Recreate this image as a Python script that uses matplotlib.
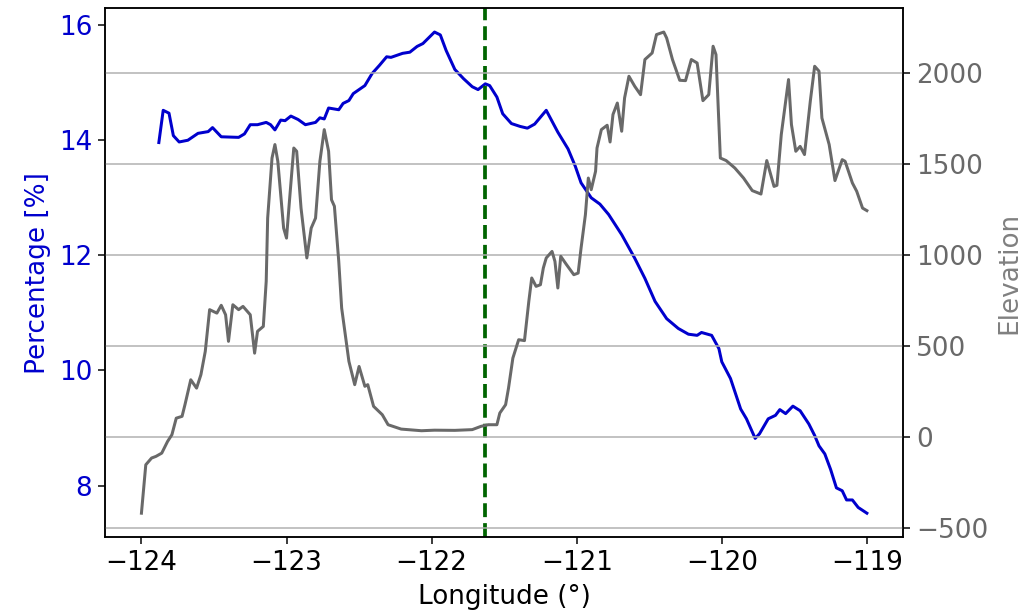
import numpy as np
import matplotlib
matplotlib.use("Agg")
import matplotlib.pyplot as plt

#------------Data-------------------------------------------#
lon_pct = [-123.88, -123.85, -123.81, -123.78, -123.74, -123.68, -123.61, -123.54, -123.51,
           -123.45, -123.33, -123.29, -123.25, -123.20, -123.14, -123.11, -123.08, -123.04,
           -123.01, -122.97, -122.92, -122.87, -122.80, -122.77, -122.74, -122.71, -122.64,
           -122.61, -122.57, -122.54, -122.46, -122.41, -122.36, -122.31, -122.28, -122.20,
           -122.15, -122.10, -122.06, -121.98, -121.94, -121.90, -121.84, -121.78, -121.72,
           -121.68, -121.63, -121.60, -121.55, -121.51, -121.45, -121.39, -121.34, -121.29,
           -121.21, -121.13, -121.06, -121.01, -120.97, -120.90, -120.84, -120.78, -120.69,
           -120.60, -120.53, -120.46, -120.38, -120.30, -120.23, -120.17, -120.14, -120.07,
           -120.02, -120.00, -119.94, -119.87, -119.83, -119.77, -119.74, -119.68, -119.63,
           -119.60, -119.56, -119.51, -119.46, -119.40, -119.36, -119.33, -119.29, -119.25,
           -119.21, -119.17, -119.14, -119.10, -119.06, -119.00]
pct = [13.96, 14.52, 14.47, 14.08, 13.97, 14.00, 14.12, 14.15, 14.22,
       14.06, 14.05, 14.11, 14.27, 14.27, 14.31, 14.27, 14.18, 14.35,
       14.34, 14.42, 14.36, 14.27, 14.31, 14.39, 14.37, 14.56, 14.53,
       14.64, 14.69, 14.81, 14.95, 15.16, 15.30, 15.45, 15.44, 15.51,
       15.53, 15.63, 15.68, 15.88, 15.83, 15.56, 15.23, 15.07, 14.93,
       14.88, 14.98, 14.95, 14.75, 14.46, 14.29, 14.24, 14.21, 14.28,
       14.52, 14.14, 13.85, 13.55, 13.26, 13.00, 12.89, 12.71, 12.36,
       11.95, 11.60, 11.20, 10.90, 10.73, 10.63, 10.61, 10.66, 10.61,
       10.38, 10.15, 9.86, 9.33, 9.16, 8.82, 8.90, 9.16, 9.22,
       9.32, 9.25, 9.38, 9.30, 9.07, 8.87, 8.69, 8.55, 8.28,
       7.96, 7.91, 7.75, 7.75, 7.62, 7.52]

lon_elev = [-124.00, -123.97, -123.93, -123.90, -123.86, -123.82, -123.79, -123.76, -123.72,
            -123.70, -123.66, -123.62, -123.59, -123.56, -123.53, -123.48, -123.45, -123.42,
            -123.40, -123.37, -123.33, -123.30, -123.25, -123.22, -123.20, -123.16, -123.14,
            -123.13, -123.10, -123.08, -123.06, -123.02, -123.00, -122.98, -122.95, -122.93,
            -122.90, -122.86, -122.83, -122.80, -122.77, -122.74, -122.71, -122.69, -122.67,
            -122.64, -122.62, -122.57, -122.53, -122.50, -122.46, -122.44, -122.40, -122.34,
            -122.30, -122.21, -122.07, -121.98, -121.84, -121.72, -121.66, -121.61, -121.55,
            -121.53, -121.49, -121.47, -121.44, -121.40, -121.36, -121.33, -121.31, -121.28,
            -121.25, -121.23, -121.21, -121.17, -121.15, -121.13, -121.11, -121.07, -121.02,
            -120.99, -120.97, -120.94, -120.92, -120.90, -120.87, -120.86, -120.83, -120.79,
            -120.77, -120.75, -120.72, -120.69, -120.67, -120.64, -120.60, -120.56, -120.53,
            -120.48, -120.45, -120.40, -120.38, -120.34, -120.29, -120.25, -120.21, -120.17,
            -120.13, -120.09, -120.06, -120.04, -120.01, -119.97, -119.91, -119.85, -119.79,
            -119.73, -119.69, -119.64, -119.62, -119.59, -119.54, -119.52, -119.49, -119.46,
            -119.43, -119.39, -119.36, -119.33, -119.31, -119.26, -119.22, -119.17, -119.15,
            -119.10, -119.07, -119.03, -119.00]
elev = [-419, -153, -116, -107, -89, -25, 12, 103, 113,
        177, 314, 268, 342, 470, 699, 680, 723, 671,
        525, 726, 699, 717, 671, 460, 580, 607, 855,
        1202, 1532, 1606, 1514, 1147, 1092, 1294, 1587, 1569,
        1257, 983, 1147, 1202, 1514, 1688, 1569, 1303, 1267,
        964, 708, 415, 287, 387, 278, 287, 168, 122,
        67, 43, 34, 37, 36, 40, 58, 67, 67,
        131, 177, 268, 433, 534, 529, 745, 873, 827,
        836, 928, 983, 1019, 964, 818, 992, 946, 891,
        900, 1037, 1221, 1422, 1358, 1459, 1587, 1688, 1712,
        1620, 1771, 1834, 1679, 1862, 1981, 1926, 1880, 2073,
        2109, 2210, 2224, 2191, 2073, 1959, 1957, 2073, 2054,
        1847, 1880, 2146, 2100, 1532, 1518, 1477, 1422, 1353,
        1334, 1518, 1376, 1382, 1661, 1963, 1716, 1569, 1596,
        1551, 1844, 2036, 2009, 1752, 1606, 1408, 1523, 1514,
        1395, 1349, 1257, 1243]

lon_marker = -121.63

#------------Plot----------------------#
plt.rcParams['font.size'] = 14
fig = plt.figure(figsize=(1031 / 135, 614 / 135), dpi=135)
ax = fig.add_axes([0.102, 0.125, 0.774, 0.862])

ax.plot(lon_pct, pct, color='mediumblue', lw=1.6)
ax.set_xlabel('Longitude (°)')
ax.set_ylabel('Percentage [%]', color='mediumblue')
ax.tick_params(axis='y', labelcolor='mediumblue')
ax.axvline(lon_marker, color='darkgreen', ls='--', lw=2)

ax2 = ax.twinx()
ax2.plot(lon_elev, elev, color='dimgray', lw=1.6)
ax2.set_ylabel('Elevation', color='gray')
ax2.tick_params(axis='y', labelcolor='dimgray')
ax2.grid(axis='y')
ax2.set_yticks([-500, 0, 500, 1000, 1500, 2000])

fig.savefig('out.png', dpi=135)
